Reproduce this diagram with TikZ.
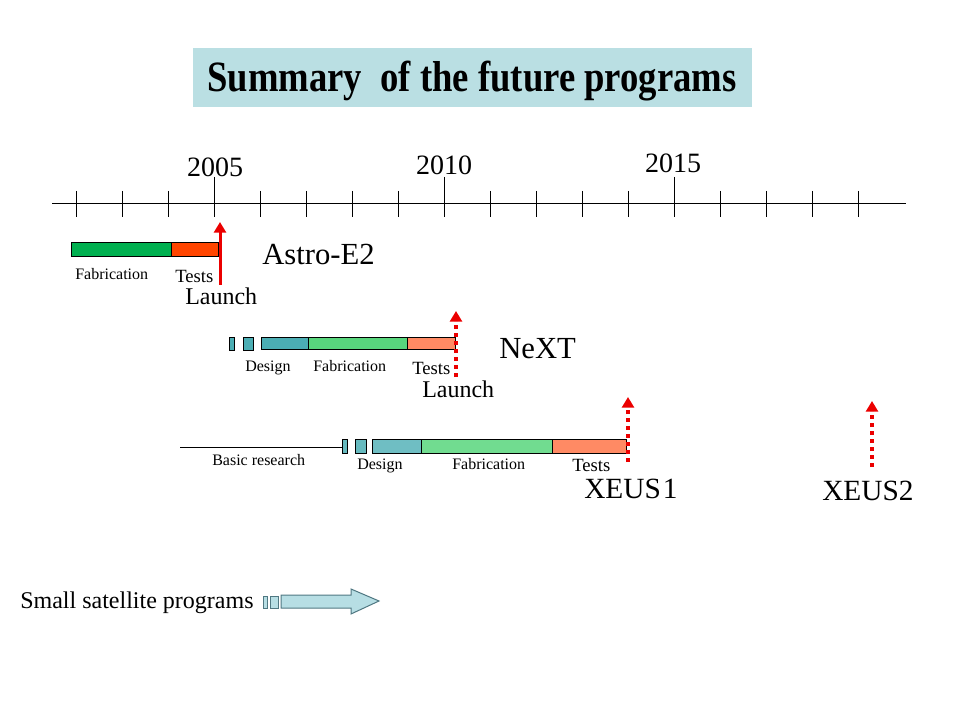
\documentclass[tikz,border=0pt]{standalone}
\usepackage{fontspec}
\setmainfont{Liberation Serif}
\usepackage{tikz}
\usetikzlibrary{arrows.meta}

\definecolor{titlebg}{RGB}{186,223,227}
\definecolor{astrogreen}{RGB}{0,176,80}
\definecolor{astrored}{RGB}{255,69,0}
\definecolor{designteal}{RGB}{75,174,180}
\definecolor{fabgreen}{RGB}{88,214,125}
\definecolor{testsalmon}{RGB}{255,138,100}
\definecolor{launchred}{RGB}{235,0,0}
\definecolor{arrowfill}{RGB}{183,222,228}
\definecolor{arrowedge}{RGB}{80,120,130}

\tikzset{
  bar/.style={draw=black, line width=0.75pt},
  tick/.style={line width=0.75pt},
  yearlbl/.style={font=\fontsize{21}{21}\selectfont, anchor=base},
  smalllbl/.style={font=\fontsize{12}{12}\selectfont, anchor=base west, inner sep=0pt},
  testlbl/.style={font=\fontsize{14}{14}\selectfont, anchor=base west, inner sep=0pt},
  launchlbl/.style={font=\fontsize{18}{18}\selectfont, anchor=base west, inner sep=0pt},
  satlbl/.style={font=\fontsize{23}{23}\selectfont, anchor=base west, inner sep=0pt},
  launchsolid/.style={draw=launchred, line width=2.25pt, -{Triangle[width=9pt,length=8pt]}},
  launchdotted/.style={draw=launchred, line width=3pt, dash pattern={on 3pt off 3pt}, -{Triangle[width=9pt,length=8pt]}},
}

\begin{document}
\begin{tikzpicture}[x=0.75pt,y=0.75pt,yscale=-1,xscale=1]
\useasboundingbox (0,0) rectangle (960,720);

%Title
\fill [titlebg] (193,48) rectangle (752,107) ;
\node [inner sep=0pt, font=\bfseries\fontsize{27.5}{27.5}\selectfont] (title) at (472,81.5) {\scalebox{1}[1.18]{Summary \ of the future programs}};

%Time axis
\draw [line width=0.75pt] (52,204) -- (906,204) ;
\draw [tick] (76,191) -- (76,217) ;
\draw [tick] (122,191) -- (122,217) ;
\draw [tick] (168,191) -- (168,217) ;
\draw [tick] (214,177) -- (214,217) ;
\draw [tick] (260,191) -- (260,217) ;
\draw [tick] (306,191) -- (306,217) ;
\draw [tick] (352,191) -- (352,217) ;
\draw [tick] (398,191) -- (398,217) ;
\draw [tick] (444,177) -- (444,217) ;
\draw [tick] (490,191) -- (490,217) ;
\draw [tick] (536,191) -- (536,217) ;
\draw [tick] (582,191) -- (582,217) ;
\draw [tick] (628,191) -- (628,217) ;
\draw [tick] (674,177) -- (674,217) ;
\draw [tick] (720,191) -- (720,217) ;
\draw [tick] (766,191) -- (766,217) ;
\draw [tick] (812,191) -- (812,217) ;
\draw [tick] (858,191) -- (858,217) ;
\node [yearlbl] (y2005) at (215,177) {2005};
\node [yearlbl] (y2010) at (444,175) {2010};
\node [yearlbl] (y2015) at (673,173) {2015};

%Astro-E2
\draw [bar, fill=astrogreen] (71,243) rectangle (171,257) ;
\draw [bar, fill=astrored] (171,243) rectangle (218,257) ;
\node [smalllbl] (astrofab) at (75,280) {Fabrication};
\node [testlbl] (astrotests) at (175,283) {Tests};
\node [launchlbl] (astrolaunch) at (185,305) {Launch};
\node [satlbl] (astro) at (262,265) {Astro-E2};
\coordinate (astrofoot) at (220,285);
\coordinate (astrotip) at (220,222);
\draw [launchsolid] (astrofoot) -- (astrotip) ;

%NeXT
\draw [bar, fill=designteal] (229,337) rectangle (234,350) ;
\draw [bar, fill=designteal] (243,337) rectangle (253,350) ;
\draw [bar, fill=designteal] (261,337) rectangle (308,349) ;
\draw [bar, fill=fabgreen] (308,337) rectangle (407,349) ;
\draw [bar, fill=testsalmon] (407,337) rectangle (455,349) ;
\node [smalllbl] (nextdesign) at (245,371) {Design};
\node [smalllbl] (nextfab) at (313,371) {Fabrication};
\node [testlbl] (nexttests) at (412,374) {Tests};
\node [launchlbl] (nextlaunch) at (422,397) {Launch};
\node [satlbl] (next) at (499,358) {NeXT};
\coordinate (nextfoot) at (456,377);
\coordinate (nexttip) at (456,311);
\draw [launchdotted] (nextfoot) -- (nexttip) ;

%XEUS
\coordinate (basicstart) at (180,447);
\coordinate (basicend) at (344,447);
\draw [line width=0.75pt] (basicstart) -- (basicend) ;
\draw [bar, fill=designteal!85!white] (342,439) rectangle (347,453) ;
\draw [bar, fill=designteal!85!white] (355,439) rectangle (366,453) ;
\draw [bar, fill=designteal!80!white] (372,439) rectangle (421,453) ;
\draw [bar, fill=fabgreen!85!white] (421,439) rectangle (552,453) ;
\draw [bar, fill=testsalmon] (552,439) rectangle (626,453) ;
\node [smalllbl] (basiclbl) at (212,465) {Basic research};
\node [smalllbl] (xeusdesign) at (357,469) {Design};
\node [smalllbl] (xeusfab) at (452,469) {Fabrication};
\node [testlbl] (xeustests) at (572,471) {Tests};
\node [satlbl, font=\fontsize{22}{22}\selectfont] (xeus1) at (584,498) {XEUS\kern1.5pt 1};
\node [satlbl, font=\fontsize{22}{22}\selectfont] (xeus2) at (822,500) {XEUS2};
\coordinate (xeus1foot) at (628,462);
\coordinate (xeus1tip) at (628,397);
\draw [launchdotted] (xeus1foot) -- (xeus1tip) ;
\coordinate (xeus2foot) at (872,467);
\coordinate (xeus2tip) at (872,401);
\draw [launchdotted] (xeus2foot) -- (xeus2tip) ;

%Small satellites
\node [launchlbl] (smallsat) at (20,608) {Small satellite programs};
\draw [draw=arrowedge, fill=arrowfill, line width=0.75pt] (263,596) rectangle (267,608) ;
\draw [draw=arrowedge, fill=arrowfill, line width=0.75pt] (270,596) rectangle (278,608) ;
\draw [draw=arrowedge, fill=arrowfill, line width=0.75pt] (281,595) -- (351,595) -- (351,589) -- (379,601) -- (351,614) -- (351,608) -- (281,608) -- cycle ;

\end{tikzpicture}
\end{document}
